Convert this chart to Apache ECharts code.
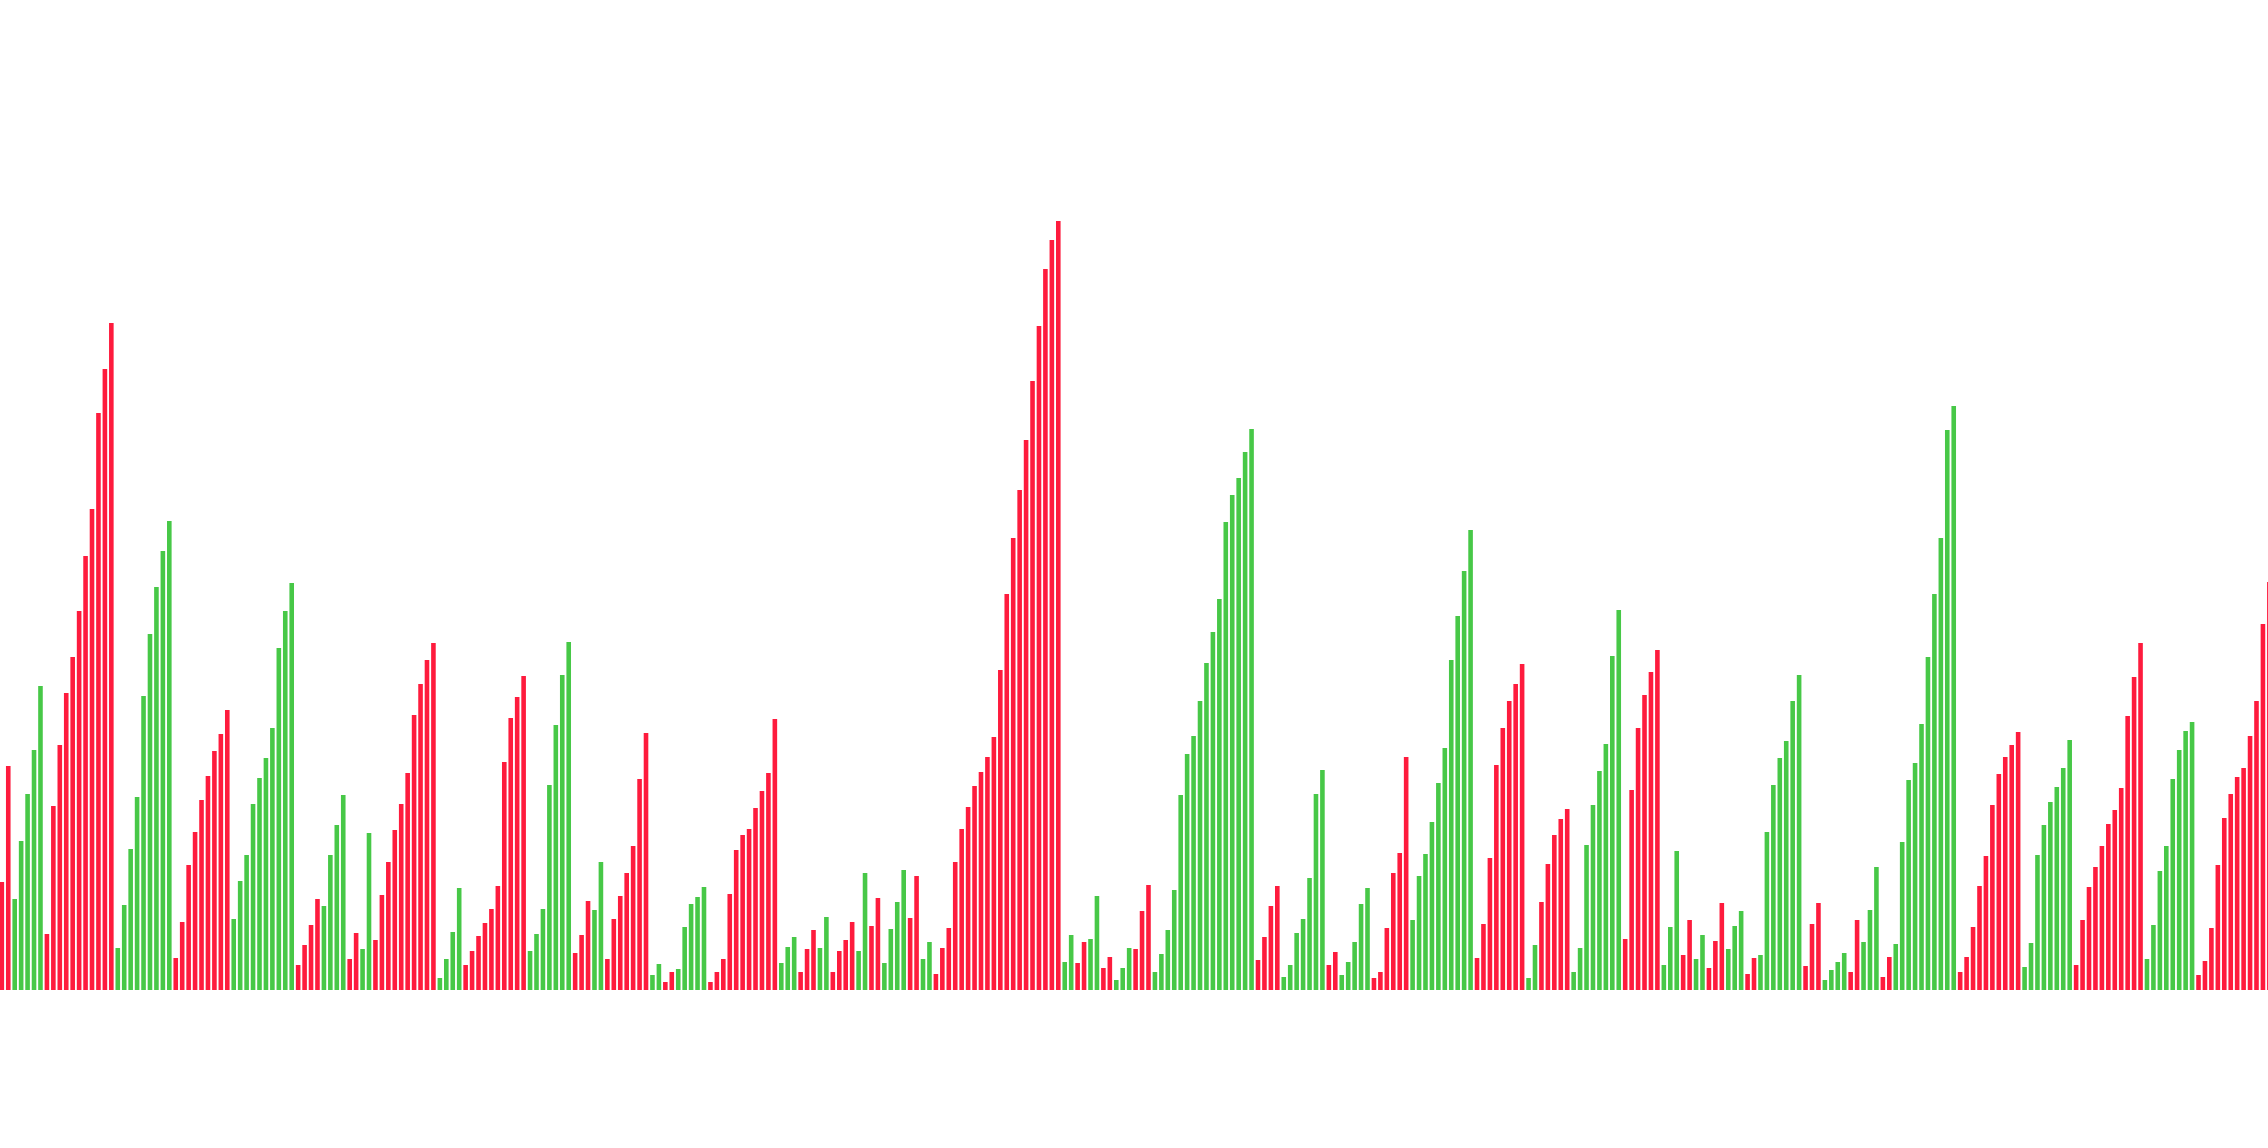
<!DOCTYPE html>
<html>
<head>
<meta charset="utf-8">
<style>
html,body{margin:0;padding:0;background:#fff;}
#chart{width:2268px;height:1148px;}
</style>
<script src="https://cdn.jsdelivr.net/npm/echarts@6/dist/echarts.min.js"></script>
</head>
<body>
<div id="chart"></div>
<script>
// Bar values (volume)
const volumes = [
108,224,91,149,196,240,304,56,184,245,297,333,379,434,481,577,621,667,42,85,
141,193,294,356,403,439,469,32,68,125,158,190,214,239,256,280,71,109,135,186,
212,232,262,342,379,407,25,45,65,91,84,135,165,195,31,57,41,157,50,95,
128,160,186,217,275,306,330,347,12,31,58,102,25,39,54,67,81,104,228,272,
293,314,39,56,81,205,265,315,348,37,55,89,80,128,31,71,94,117,144,211,
257,15,26,8,18,21,63,86,93,103,8,18,31,96,140,155,161,182,199,217,
271,27,43,53,18,41,60,42,73,18,39,50,68,39,117,64,92,27,61,88,
120,72,114,31,48,16,42,62,128,161,183,204,218,233,253,320,396,452,500,550,
609,664,721,750,769,28,55,27,48,51,94,22,33,10,22,42,41,79,105,18,
36,60,100,195,236,254,289,327,358,391,468,495,512,538,561,30,53,84,104,13,
25,57,71,112,196,220,25,38,15,28,48,86,102,12,18,62,117,137,233,70,
114,136,168,207,242,330,374,419,460,32,66,132,225,262,289,306,326,12,45,88,
126,155,171,181,18,42,145,185,219,246,334,380,51,200,262,295,318,340,25,63,
139,35,70,31,55,22,49,87,41,64,79,16,32,35,158,205,232,249,289,315,
24,66,87,10,20,28,37,18,70,48,80,123,13,33,46,148,210,227,266,333,
396,452,560,584,18,33,63,104,134,185,216,233,245,258,23,47,135,165,188,203,
222,250,25,70,103,123,144,166,180,202,274,313,347,31,65,119,144,211,240,259,
268,15,29,62,125,172,196,213,222,254,289,366,408
];
// Direction of each bar: 1 = up (green), 0 = down (red)
const direction = [
0,0,1,1,1,1,1,0,0,0,0,0,0,0,0,0,0,0,1,1,
1,1,1,1,1,1,1,0,0,0,0,0,0,0,0,0,1,1,1,1,
1,1,1,1,1,1,0,0,0,0,1,1,1,1,0,0,1,1,0,0,
0,0,0,0,0,0,0,0,1,1,1,1,0,0,0,0,0,0,0,0,
0,0,1,1,1,1,1,1,1,0,0,0,1,1,0,0,0,0,0,0,
0,1,1,0,0,1,1,1,1,1,0,0,0,0,0,0,0,0,0,0,
0,1,1,1,0,0,0,1,1,0,0,0,0,1,1,0,0,1,1,1,
1,0,0,1,1,0,0,0,0,0,0,0,0,0,0,0,0,0,0,0,
0,0,0,0,0,1,1,0,0,1,1,0,0,1,1,1,0,0,0,1,
1,1,1,1,1,1,1,1,1,1,1,1,1,1,1,0,0,0,0,1,
1,1,1,1,1,1,0,0,1,1,1,1,1,0,0,0,0,0,0,1,
1,1,1,1,1,1,1,1,1,0,0,0,0,0,0,0,0,1,1,0,
0,0,0,0,1,1,1,1,1,1,1,1,0,0,0,0,0,0,1,1,
1,0,0,1,1,0,0,0,1,1,1,0,0,1,1,1,1,1,1,1,
0,0,0,1,1,1,1,0,0,1,1,1,0,0,1,1,1,1,1,1,
1,1,1,1,0,0,0,0,0,0,0,0,0,0,1,1,1,1,1,1,
1,1,0,0,0,0,0,0,0,0,0,0,0,1,1,1,1,1,1,1,
1,0,0,0,0,0,0,0,0,0,0,0,0
];
// Category labels (hidden axis): sequential bar index
const categories = volumes.map((v, i) => String(i + 1));

const UP_COLOR = '#47c847';
const DOWN_COLOR = '#fe1b3d';

const chart = echarts.init(document.getElementById('chart'), null, {renderer: 'canvas'});
chart.setOption({
  animation: false,
  backgroundColor: '#ffffff',
  grid: {left: -1.4, width: 2274, top: 90, height: 900, outerBoundsMode: 'none', containLabel: false},
  xAxis: {
    type: 'category',
    data: categories,
    boundaryGap: true,
    show: false
  },
  yAxis: {
    type: 'value',
    min: 0,
    max: 900,
    show: false,
    splitLine: {show: false}
  },
  series: [{
    type: 'bar',
    barWidth: 4.6,
    data: volumes.map((v, i) => ({
      value: v,
      itemStyle: {color: direction[i] ? UP_COLOR : DOWN_COLOR}
    }))
  }]
});
</script>
</body>
</html>
